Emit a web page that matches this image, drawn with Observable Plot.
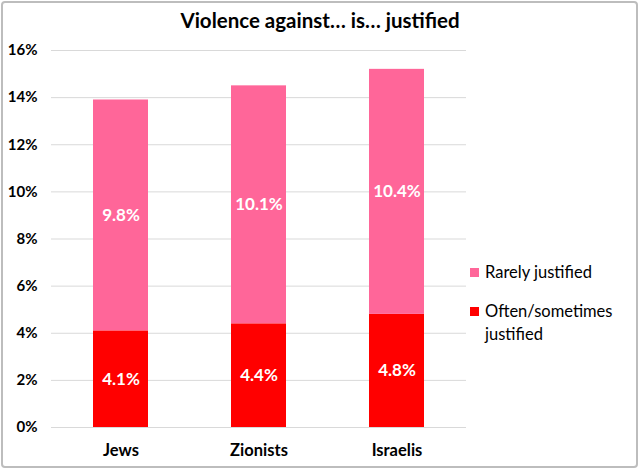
<!DOCTYPE html>
<html><head><meta charset="utf-8">
<script src="https://cdn.jsdelivr.net/npm/d3@7"></script>
<script src="https://cdn.jsdelivr.net/npm/@observablehq/plot@0.6"></script>
<style>
html,body{margin:0;padding:0;background:#fff;}
#wrap{position:relative;width:640px;height:469px;box-sizing:border-box;font-family:Lato,"Open Sans",sans-serif;}
#border{position:absolute;left:1px;top:1px;width:637px;height:467px;border:2px solid #bdbdbd;border-radius:4px;box-sizing:border-box;pointer-events:none;}
#title{position:absolute;left:0;width:640px;top:8px;text-align:center;font-weight:bold;font-size:20.5px;color:#000;}
.leg{position:absolute;left:470px;font-size:16.5px;color:#000;line-height:23px;}
.sw{position:absolute;left:0;top:7px;width:9px;height:9px;}
.leg span.t{display:block;margin-left:15px;}
#chart{position:absolute;left:0;top:0;}
</style></head>
<body>
<div id="wrap">
<div id="chart"></div>
<div id="title">Violence against… is… justified</div>
<div class="leg" style="top:261px"><div class="sw" style="background:#FF6699"></div><span class="t">Rarely justified</span></div>
<div class="leg" style="top:300px"><div class="sw" style="background:#FF0000"></div><span class="t">Often/sometimes<br>justified</span></div>
<div id="border"></div>
</div>
<script>
const categories = ["Jews", "Zionists", "Israelis"];
const seriesNames = ["Often/sometimes justified", "Rarely justified"];
const often = [4.1, 4.4, 4.8];
const rarely = [9.8, 10.1, 10.4];
const yTicks = [0, 2, 4, 6, 8, 10, 12, 14, 16];
const colors = ["#FF0000", "#FF6699"];

const data = [];
categories.forEach((c, i) => data.push({cat: c, series: seriesNames[0], value: often[i]}));
categories.forEach((c, i) => data.push({cat: c, series: seriesNames[1], value: rarely[i]}));

const chart = Plot.plot({
  width: 640,
  height: 469,
  marginLeft: 51,
  marginRight: 174,
  marginTop: 50,
  marginBottom: 42,
  style: {fontFamily: "Lato, 'Open Sans', sans-serif", background: "transparent"},
  x: {domain: categories, paddingInner: 0.6, paddingOuter: 0.3, label: null},
  y: {domain: [0, 16], label: null},
  color: {domain: seriesNames, range: colors},
  marks: [
    Plot.gridY(yTicks, {stroke: "#d9d9d9", strokeOpacity: 1, strokeWidth: 1}),
    Plot.barY(data, {x: "cat", y: "value", fill: "series", z: "series"}),
    Plot.text(data, Plot.stackY({x: "cat", y: "value", z: "series", text: d => d.value.toFixed(1) + "%", fill: "white", fontWeight: "bold", fontSize: 17})),
    Plot.axisY({ticks: yTicks, tickSize: 0, tickPadding: 14, tickFormat: d => d + "%", fontSize: 15, fontWeight: "bold", fill: "#000", label: null}),
    Plot.axisX({tickSize: 0, tickPadding: 17, fontSize: 16.5, fontWeight: "bold", fill: "#000", label: null})
  ]
});
document.getElementById("chart").appendChild(chart);
</script>
</body></html>
